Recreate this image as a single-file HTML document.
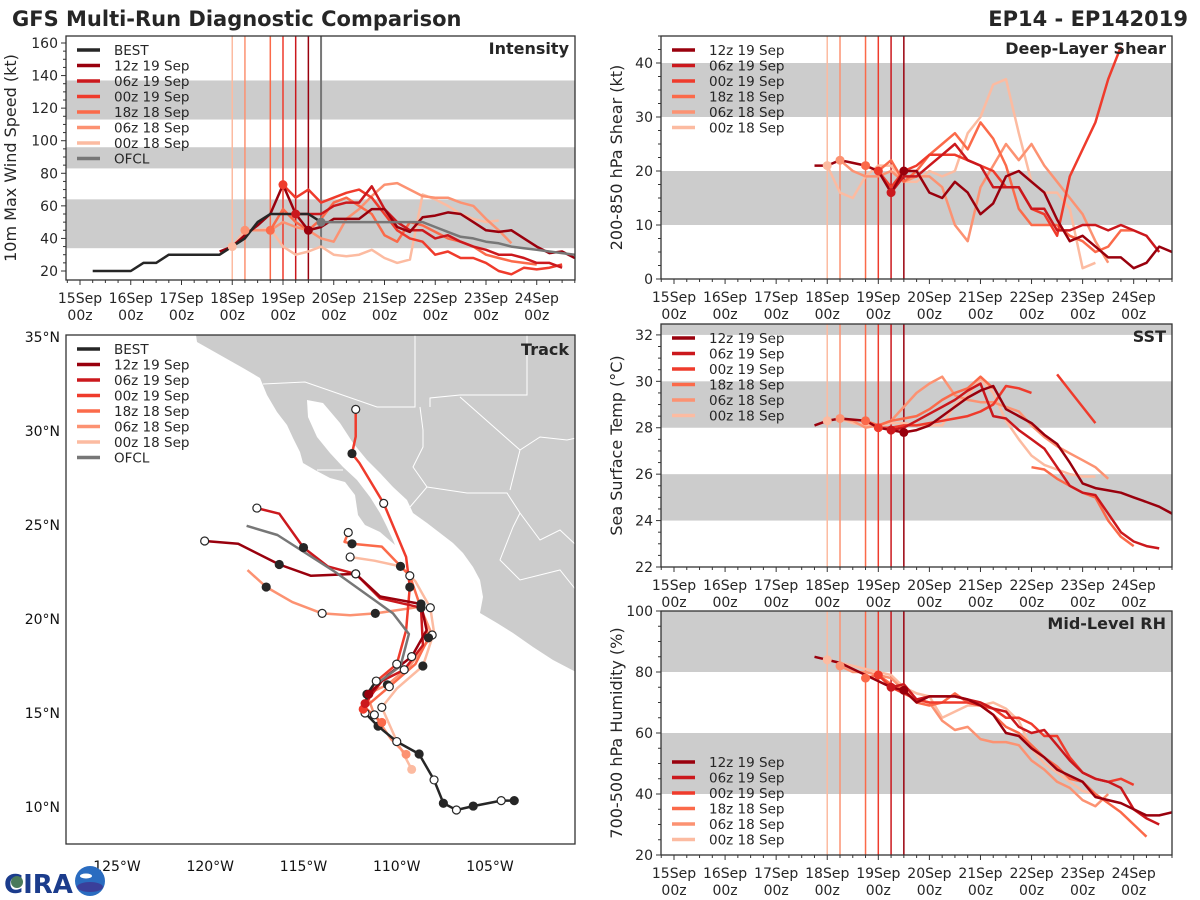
<!DOCTYPE html>
<html><head><meta charset="utf-8">
<style>
html,body{margin:0;padding:0;background:#fff;}
svg{display:block;font-family:"DejaVu Sans","Liberation Sans",sans-serif;}
</style></head>
<body>
<svg id="chart" width="1200" height="900" viewBox="0 0 1200 900" xmlns="http://www.w3.org/2000/svg">
<rect width="1200" height="900" fill="#fff"/>
<text x="12" y="26" font-size="21" font-weight="bold" fill="#262626">GFS Multi-Run Diagnostic Comparison</text>
<text x="1188" y="26" font-size="21" font-weight="bold" fill="#262626" text-anchor="end">EP14 - EP142019</text>
<g id="layer"></g>
<g>
<text x="4" y="893" font-size="26" font-weight="bold" fill="#1b3c8c">CIRA</text>
<circle cx="17" cy="882" r="6" fill="#4a7a5a"/>
<circle cx="90" cy="881" r="15" fill="#2a6cc0"/>
<ellipse cx="90" cy="887" rx="13" ry="5" fill="#3a3f9a"/>
<ellipse cx="86" cy="876" rx="6" ry="2.5" fill="#fff"/>
</g>
</svg>
<script>
// ---------- Data ----------
const runNames = ['12z 19 Sep','06z 19 Sep','00z 19 Sep','18z 18 Sep','06z 18 Sep','00z 18 Sep'];
const runColors = ['#99000d','#cb181d','#ef3b2c','#fb6a4a','#fc9272','#fcbba1'];
const runInitDays = [4.5,4.25,4.0,3.75,3.25,3.0];
const ofclInitDay = 4.75;
const dayLabels = ['15Sep','16Sep','17Sep','18Sep','19Sep','20Sep','21Sep','22Sep','23Sep','24Sep'];

// Intensity (kt), 6-hourly from start day
const intBestStart = 0.25;
const intBest = [20,20,20,20,25,25,30,30,30,30,30,35,40,50,55,55,55,55,50];
const intOfclStart = 4.75;
const intOfcl = [50,50,50,50,50,50,50,50,50,47,44,41,40,38,37,35,34,33,32,31,30];
const intRunStarts = [2.75,4.25,4.0,3.75,3.25,3.0];
const int12z19 = [32,35,42,48,55,73,55,45,47,52,52,52,58,58,47,44,53,54,56,55,50,45,44,45,40,35,31,32,28];
const int06z19 = [55,55,55,60,62,62,72,58,50,45,45,40,42,38,35,33,30,30,28,25,25,22];
const int00z19 = [73,65,70,62,65,68,70,65,55,45,40,38,30,32,28,28,25,20,18,22,21,22,24];
const int18z18 = [45,58,50,45,52,62,65,60,55,42,38,50,48,44,40,38,35,30,28,26,25,24];
const int06z18 = [45,45,45,50,47,45,40,38,52,58,66,73,74,70,66,65,65,62,60,52,45,37];
const int00z18 = [35,45,45,46,35,30,32,35,30,29,30,33,28,25,27,67,64,60,55,52,50,51];
const intInitVals = [45,55,73,45,45,35];

// Deep-layer shear (kt)
const shrRunStarts = [2.75,4.25,4.0,3.75,3.25,3.0];
const shr12z19 = [21,21,22,21.5,21,20,16,20,20,16,15,18,16,12,14,19,20,18,16,11,7,8,6,4,4,2,3,6,5];
const shr06z19 = [16,19,19,21,23,25,22,21,17,17,17,13,13,9,9,10,10,9,10,9,8,5];
const shr00z19 = [20,17,20,21,23,23,23,22,21,20,17,17,13,12,8,19,24,29,37,43];
const shr18z18 = [21,20,22,18,20,23,25,27,24,29,26,21,13,10,10,10,8,7,5,6,9,9];
const shr06z18 = [22,20,19,19,20,18,19,19,17,10,7,17,21,25,22,25,21,18,15,12,7,3];
const shr00z18 = [21,16,15,19,21,21,18,18,20,19,20,27,30,36,37,27,18,16,16,13,2,3];
const shrInitVals = [20,16,20,21,22,21];

// SST (C)
const sstRunStarts = [2.75,4.25,4.0,3.75,3.25,3.0];
const sst12z19 = [28.1,28.3,28.4,28.35,28.3,28.0,27.9,27.8,27.9,28.1,28.5,28.9,29.3,29.6,29.8,28.8,28.5,28.2,27.7,27.3,26.5,25.6,25.4,25.3,25.2,25.0,24.8,24.6,24.3,23.9];
const sst06z19 = [27.9,28.0,28.3,28.6,28.9,29.2,29.6,29.9,28.5,28.4,27.9,27.5,27.1,26.3,25.5,25.2,25.1,24.3,23.5,23.1,22.9,22.8];
const sst00z19 = [28.0,28.0,28.1,28.1,28.2,28.3,28.4,28.5,28.7,29.0,29.8,29.7,29.5,null,30.3,29.6,28.9,28.2];
const sst18z18 = [28.3,28.1,28.3,28.4,28.5,28.8,29.2,29.5,29.7,30.2,29.7,null,null,26.3,26.2,25.8,25.5,25.2,25.0,24.0,23.3,22.9];
const sst06z18 = [28.4,28.3,28.0,28.1,28.3,28.9,29.5,29.9,30.2,29.4,29.2,29.1,29.1,28.9,28.7,28.1,27.6,27.2,26.9,26.6,26.3,25.8];
const sst00z18 = [28.3,28.4,28.2,28.1,28.1,28.2,28.2,28.1,28.1,28.1,29.0,29.4,30.1,29.5,28.3,27.5,26.8,26.4,26.2,26.0,25.9,25.9];
const sstInitVals = [27.8,27.9,28.0,28.3,28.4,28.3];

// Mid-level RH (%)
const rhRunStarts = [2.75,4.25,4.0,3.75,3.25,3.0];
const rh12z19 = [85,84,83,81,79,77,75,74,70,72,72,72,71,69,66,60,59,55,52,48,46,44,39,38,37,35,33,33,34,32];
const rh06z19 = [75,76,71,72,72,72,71,70,68,67,62,60,61,56,51,47,45,44,42,35,32,30];
const rh00z19 = [79,75,73,71,70,70,70,70,69,68,65,65,63,59,59,52,47,45,44,45,43];
const rh18z18 = [78,79,76,74,70,69,70,73,70,69,66,62,60,56,52,49,45,44,40,37,34,30,26];
const rh06z18 = [82,80,80,79,78,74,71,70,64,61,62,58,57,57,56,51,48,44,42,38,36,40];
const rh00z18 = [84,83,82,81,80,79,75,73,72,65,67,69,69,70,68,64,55,50,47,44,41,40];
const rhInitVals = [74,75,79,78,82,84];

// Tracks: [lon, lat] every 12 h
const trkBest = [[-103.7,10.34],[-104.4,10.34],[-105.9,10.05],[-106.8,9.84],[-107.5,10.2],[-108.0,11.44],[-108.8,12.82],[-110.0,13.48],[-111.0,14.3],[-111.7,15.0],[-111.6,16.0],[-111.1,16.7]];
const trk12z19 = [[-111.5,16.0],[-110.5,17.0],[-109.2,18.0],[-108.4,19.4],[-108.7,20.8],[-110.9,21.2],[-112.2,22.4],[-114.6,22.3],[-116.3,22.9],[-118.5,24.0],[-120.3,24.15]];
const trk06z19 = [[-111.7,15.5],[-110.8,16.7],[-109.6,17.3],[-108.6,18.6],[-108.7,20.6],[-110.9,21.1],[-112.2,22.4],[-113.7,22.8],[-115.0,23.8],[-116.3,25.6],[-117.5,25.9]];
const trk00z19 = [[-111.8,15.2],[-111.2,16.6],[-110.0,17.6],[-109.5,19.4],[-109.3,21.7],[-109.5,23.3],[-110.7,26.15],[-112.0,28.3],[-112.4,28.8],[-112.2,29.7],[-112.2,31.15]];
const trk18z18 = [[-110.8,14.5],[-111.7,15.3],[-110.4,16.4],[-109.0,17.6],[-108.3,19.0],[-108.5,20.0],[-109.3,22.3],[-110.8,23.85],[-112.4,24.0],[-112.8,24.1],[-112.6,24.6]];
const trk06z18 = [[-109.5,12.8],[-110.3,13.6],[-111.2,14.9],[-111.6,16.0],[-110.5,16.5],[-109.3,17.5],[-108.1,19.15],[-108.75,20.65],[-111.15,20.3],[-112.5,20.2],[-114.0,20.3],[-115.6,20.9],[-117.0,21.7],[-118.0,22.6]];
const trk00z18 = [[-109.2,12.0],[-110.0,13.5],[-110.8,15.3],[-110.0,16.3],[-108.6,17.5],[-108.0,19.3],[-108.2,20.6],[-109.0,22.0],[-109.8,22.8],[-111.2,23.1],[-112.5,23.3]];
const trkOfcl = [[-111.0,16.6],[-109.8,17.5],[-109.35,19.2],[-110.2,20.3],[-113.3,22.5],[-116.4,24.47],[-118.05,24.96]];
const lonTicks = [-125,-120,-115,-110,-105];
const latTicks = [10,15,20,25,30,35];

// ---------- Drawing ----------
const NS='http://www.w3.org/2000/svg';
const layer=document.getElementById('layer');
function mk(tag,attrs,parent){const e=document.createElementNS(NS,tag);for(const k in attrs)e.setAttribute(k,attrs[k]);(parent||layer).appendChild(e);return e;}
function txt(s,attrs,parent){const e=mk('text',attrs,parent);e.textContent=s;return e;}

function panel(cfg){
  const g=mk('g',{});
  
  
  const X=d=>cfg.x0+(d-cfg.dmin)/(cfg.dmax-cfg.dmin)*(cfg.x1-cfg.x0);
  const Y=v=>cfg.y1-(v-cfg.vmin)/(cfg.vmax-cfg.vmin)*(cfg.y1-cfg.y0);
  const cid='clip'+cfg.name;
  const cp=mk('clipPath',{id:cid},g); mk('rect',{x:cfg.x0,y:cfg.y0,width:cfg.x1-cfg.x0,height:cfg.y1-cfg.y0},cp);
  const inner=mk('g',{'clip-path':'url(#'+cid+')'},g);
  cfg.bands.forEach(b=>{
    const r=mk('rect',{x:cfg.x0,y:Y(b[1]),width:cfg.x1-cfg.x0,height:Y(b[0])-Y(b[1]),fill:'#cccccc'},inner);
    
    
  });
  runInitDays.forEach((d,i)=>{
    const l=mk('line',{x1:X(d),x2:X(d),y1:cfg.y0,y2:cfg.y1,stroke:runColors[i],'stroke-width':1.5},inner);
    
    
  });
  if(cfg.ofcl){const l=mk('line',{x1:X(ofclInitDay),x2:X(ofclInitDay),y1:cfg.y0,y2:cfg.y1,stroke:'#777','stroke-width':2},inner);
    
    }
  function series(start,vals,color,w,nm){
    let d='',pen=false;
    vals.forEach((v,k)=>{if(v===null){pen=false;return;}const px=X(start+k*0.25),py=Y(v);d+=(pen?'L':'M')+px.toFixed(1)+' '+py.toFixed(1);pen=true;});
    const p=mk('path',{d:d,fill:'none',stroke:color,'stroke-width':w,'stroke-linejoin':'round'},inner);
    
    
  }
  for(let i=cfg.runs.length-1;i>=0;i--) series(cfg.runStarts[i],cfg.runs[i],runColors[i],2.5,'series-'+runNames[i].replace(/ /g,'-').toLowerCase());
  if(cfg.best) series(intBestStart,intBest,'#262626',2.5,'series-best');
  if(cfg.ofcl) series(intOfclStart,intOfcl,'#777777',2.5,'series-ofcl');
  cfg.initVals.forEach((v,i)=>{const c=mk('circle',{cx:X(runInitDays[i]),cy:Y(v),r:4.5,fill:runColors[i]},inner);
    
    });
  if(cfg.ofcl){const c=mk('circle',{cx:X(ofclInitDay),cy:Y(intOfcl[0]),r:4.5,fill:'#777'},inner);
    
    }
  mk('rect',{x:cfg.x0,y:cfg.y0,width:cfg.x1-cfg.x0,height:cfg.y1-cfg.y0,fill:'none',stroke:'#333','stroke-width':1.3},g);
  for(let v=cfg.vmin0;v<=cfg.vmax+1e-6;v+=cfg.minor){const y=Y(v);if(y<cfg.y0-0.5)continue;
    const major=Math.abs(((v-cfg.vmin0)/cfg.major)-Math.round((v-cfg.vmin0)/cfg.major))<1e-6;
    mk('line',{x1:cfg.x0,x2:cfg.x0-(major?5:3),y1:y,y2:y,stroke:'#333','stroke-width':1},g);
    if(major){const t=txt(String(Math.round(v)),{x:cfg.x0-8,y:y+5,'font-size':14,'text-anchor':'end',fill:'#262626'},g);
      
      }
  }
  for(let k=-1;k<=40;k++){const d=k*0.25;if(d<cfg.dmin||d>cfg.dmax)continue;const x=X(d);const major=k%4===0;
    mk('line',{x1:x,x2:x,y1:cfg.y1,y2:cfg.y1+(major?5:3),stroke:'#333','stroke-width':1},g);
    if(major&&dayLabels[k/4]){const t1=txt(dayLabels[k/4],{x:x,y:cfg.y1+23,'font-size':14,'text-anchor':'middle',fill:'#262626'},g);
      
      
      const t2=txt('00z',{x:x,y:cfg.y1+40,'font-size':14,'text-anchor':'middle',fill:'#262626'},g);
      
      }
  }
  const yl=txt(cfg.ylabel,{x:0,y:0,'font-size':16,'text-anchor':'middle',fill:'#262626',transform:'translate('+cfg.ylx+','+((cfg.y0+cfg.y1)/2)+') rotate(-90)'},g);
  
  
  const tt=txt(cfg.title,{x:cfg.x1-6,y:cfg.y0+18,'font-size':16,'font-weight':'bold','text-anchor':'end',fill:'#262626'},g);
  
  
  legend(g,cfg.legX,cfg.legY,cfg.legItems);
}
function legend(g,x,y,items){
  const lg=mk('g',{},g);
  
  
  items.forEach((it,i)=>{const yy=y+i*15.5;
    const e=mk('g',{},lg);
    
    
    mk('line',{x1:x,x2:x+23,y1:yy,y2:yy,stroke:it[1],'stroke-width':3.5},e);
    txt(it[0],{x:x+37,y:yy+5,'font-size':13.5,fill:'#262626'},e);});
}
const runLeg=runNames.map((n,i)=>[n,runColors[i]]);

panel({name:'intensity-panel',x0:66,x1:575,y0:36,y1:280,dmin:-0.276,dmax:9.754,vmin:14.47,vmax:164.3,vmin0:20,major:20,minor:5,
  bands:[[34,64],[83,96],[113,137]],ofcl:true,best:true,
  runs:[int12z19,int06z19,int00z19,int18z18,int06z18,int00z18],runStarts:intRunStarts,initVals:intInitVals,
  ylabel:'10m Max Wind Speed (kt)',ylx:16,title:'Intensity',legX:77,legY:50,
  legItems:[['BEST','#262626']].concat(runLeg,[['OFCL','#777777']])});
panel({name:'shear-panel',x0:661,x1:1172,y0:36,y1:279,dmin:-0.2546,dmax:9.75,vmin:0,vmax:45,vmin0:0,major:10,minor:2.5,
  bands:[[10,20],[30,40]],runs:[shr12z19,shr06z19,shr00z19,shr18z18,shr06z18,shr00z18],runStarts:shrRunStarts,initVals:shrInitVals,
  ylabel:'200-850 hPa Shear (kt)',ylx:622,title:'Deep-Layer Shear',legX:672,legY:50,legItems:runLeg});
panel({name:'sst-panel',x0:661,x1:1172,y0:324,y1:567,dmin:-0.2546,dmax:9.75,vmin:22,vmax:32.47,vmin0:22,major:2,minor:0.5,
  bands:[[24,26],[28,30],[32,33]],runs:[sst12z19,sst06z19,sst00z19,sst18z18,sst06z18,sst00z18],runStarts:sstRunStarts,initVals:sstInitVals,
  ylabel:'Sea Surface Temp (°C)',ylx:622,title:'SST',legX:672,legY:338,legItems:runLeg});
panel({name:'rh-panel',x0:661,x1:1172,y0:611,y1:855,dmin:-0.2546,dmax:9.75,vmin:20,vmax:100,vmin0:20,major:20,minor:5,
  bands:[[40,60],[80,100]],runs:[rh12z19,rh06z19,rh00z19,rh18z18,rh06z18,rh00z18],runStarts:rhRunStarts,initVals:rhInitVals,
  ylabel:'700-500 hPa Humidity (%)',ylx:622,title:'Mid-Level RH',legX:672,legY:762,legItems:runLeg});

// Track panel
(function(){
  const x0=66,x1=575,y0=335,y1=844;
  const LX=lon=>117+(lon+125)*18.65, LY=lat=>337+(35-lat)*18.8;
  const g=mk('g',{});
  
  
  const cp=mk('clipPath',{id:'cliptrk'},g); mk('rect',{x:x0,y:y0,width:x1-x0,height:y1-y0},cp);
  const inner=mk('g',{'clip-path':'url(#cliptrk)'},g);
  const land=mk('g',{},inner);
  
  
  mk('path',{d:'M196 335 L197 342 L220 355 L243 368 L260 378 L267 395 L277 412 L287 425 L293 438 L300 452 L303 463 L315 470 L330 478 L345 482 L355 495 L358 515 L365 525 L380 532 L395 545 L393 540 L387 527 L380 513 L370 497 L357 480 L343 467 L330 453 L317 437 L308 417 L307 400 L323 403 L340 423 L353 443 L367 460 L380 473 L393 487 L407 500 L413 513 L427 523 L440 533 L453 543 L463 553 L473 567 L480 580 L483 597 L480 613 L497 623 L513 633 L533 647 L553 660 L576 672 L576 335 Z',fill:'#cccccc'},land);
  mk('path',{d:'M263 384 L305 382 L377 407 L415 407 L415 335 M430 407 L430 398 L460 395 L527 395 L527 335 M317 470 L343 470 M420 407 L423 430 L423 447 L413 467 L427 487 L410 507 M427 487 L467 493 L507 493 L520 513 L513 527 M460 397 L520 450 L540 437 L567 440 L576 438 M520 450 L510 490 M520 513 L540 540 L560 530 L576 545 M513 527 L500 560 L520 580 L560 570 L576 590',fill:'none',stroke:'#ffffff','stroke-width':1}, land);
  function trk(pts,color,nm,markers){
    const d=pts.map((p,k)=>(k?'L':'M')+LX(p[0]).toFixed(1)+' '+LY(p[1]).toFixed(1)).join('');
    const p=mk('path',{d:d,fill:'none',stroke:color,'stroke-width':2.5,'stroke-linejoin':'round'},inner);
    
    
    if(markers){pts.forEach((q,k)=>{
      const filled=k%2===0;
      const c=mk('circle',{cx:LX(q[0]),cy:LY(q[1]),r:4,fill:filled?'#262626':'#fff',stroke:'#262626','stroke-width':1.2},inner);
      
      });}
  }
  const runsT=[trk12z19,trk06z19,trk00z19,trk18z18,trk06z18,trk00z18];
  for(let i=runsT.length-1;i>=0;i--) trk(runsT[i],runColors[i],'track-'+runNames[i].replace(/ /g,'-').toLowerCase(),false);
  trk(trkOfcl,'#777777','track-ofcl',false);
  trk(trkBest,'#262626','track-best',true);
  for(let i=runsT.length-1;i>=0;i--){runsT[i].forEach((q,k)=>{if(k===0||k%2)return;
    const c=mk('circle',{cx:LX(q[0]),cy:LY(q[1]),r:4,fill:(k%4===0)?'#262626':'#fff',stroke:'#262626','stroke-width':1.2},inner);
    
    });
    const c0=mk('circle',{cx:LX(runsT[i][0][0]),cy:LY(runsT[i][0][1]),r:4.5,fill:runColors[i]},inner);
    
    }
  mk('rect',{x:x0,y:y0,width:x1-x0,height:y1-y0,fill:'none',stroke:'#333','stroke-width':1.3},g);
  lonTicks.forEach(v=>{const t=txt(Math.abs(v)+'°W',{x:LX(v),y:871,'font-size':14,'text-anchor':'middle',fill:'#111'},g);
    
    });
  latTicks.forEach(v=>{const t=txt(v+'°N',{x:60,y:LY(v)+5,'font-size':14,'text-anchor':'end',fill:'#111'},g);
    
    });
  const tt=txt('Track',{x:x1-6,y:y0+20,'font-size':16,'font-weight':'bold','text-anchor':'end',fill:'#262626'},g);
  
  
  legend(g,77,349,[['BEST','#262626']].concat(runLeg,[['OFCL','#777777']]));
})();
</script>
</body></html>
